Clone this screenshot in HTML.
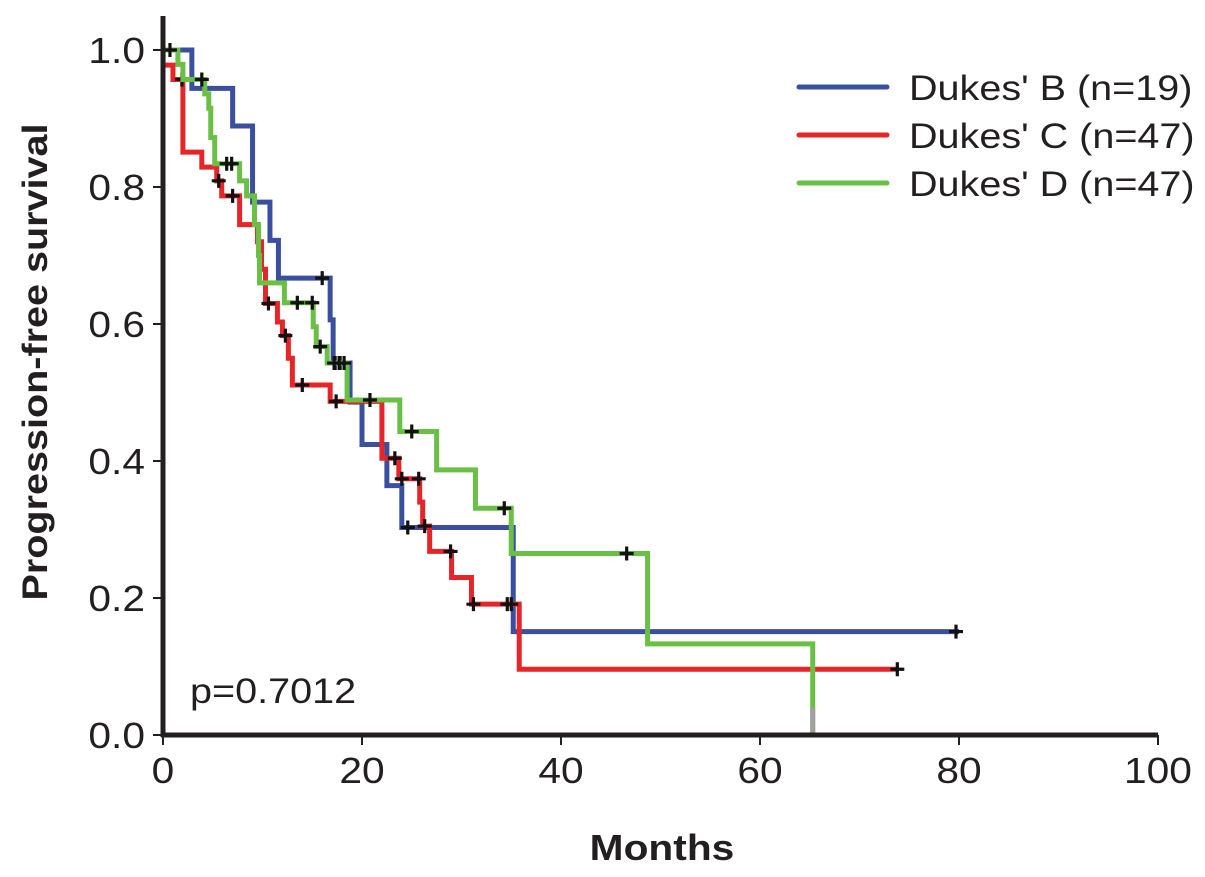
<!DOCTYPE html>
<html><head><meta charset="utf-8"><style>
body{margin:0;background:#fff;}
svg text{font-family:"Liberation Sans",Arial,sans-serif;fill:#231f20;}
</style></head><body>
<svg width="1205" height="872" viewBox="0 0 1205 872">
<g id="plot"></g>
<g id="axes"></g>
<text class="st" x="190" y="703" font-size="35">p=0.7012</text>
<text class="st" x="662" y="860" font-size="36" font-weight="bold" text-anchor="middle">Months</text>
<text class="st" transform="translate(47,362) rotate(-90)" font-size="35" font-weight="bold" text-anchor="middle">Progression-free survival</text>
<g id="legend"></g>
</svg>
<script>
const xTicks=[0,20,40,60,80,100];
const yTicks=[0,0.2,0.4,0.6,0.8,1.0];
const yTickLabels=["0.0","0.2","0.4","0.6","0.8","1.0"];
const seriesNames=["Dukes' B (n=19)","Dukes' C (n=47)","Dukes' D (n=47)"];
const colors=["#3a4fa0","#e52528","#6abf45"];
const timesB=[0,2.9,7.0,9.0,10.75,11.6,16.8,17.1,18.8,20.0,22.5,24.0,35.2];
const survB=[1,0.944,0.889,0.778,0.722,0.667,0.606,0.543,0.486,0.424,0.364,0.303,0.151];
const endB=80;
const censorB=[16.0,17.3,17.8,24.6,79.7];
const timesC=[0,0.01,1.0,2.0,3.9,5.4,5.9,7.7,9.5,9.9,10.3,11.5,12.0,12.6,13.0,16.8,22.0,23.7,25.8,26.1,26.8,29.0,31.0,35.8];
const survC=[1,0.978,0.957,0.851,0.829,0.809,0.787,0.745,0.72,0.68,0.63,0.603,0.583,0.55,0.511,0.487,0.404,0.374,0.34,0.305,0.268,0.23,0.191,0.096];
const endC=73.9;
const censorC=[1.9,5.6,7.0,10.6,12.3,14.0,17.4,23.3,24.0,25.7,26.3,28.9,31.2,34.6,35.0,73.8];
const timesD=[0,1.5,2.0,4.2,4.6,4.8,5.2,7.7,8.4,9.2,9.6,9.7,12.2,15.1,15.4,16.5,18.5,23.8,27.5,31.4,35.0,48.7,65.3];
const survD=[1,0.979,0.957,0.936,0.915,0.872,0.834,0.809,0.787,0.745,0.70,0.66,0.631,0.596,0.567,0.543,0.489,0.443,0.387,0.331,0.265,0.133,0.0];
const endD=65.3;
const censorD=[0.7,3.9,6.4,6.9,13.5,15.0,15.8,17.2,17.7,18.2,20.8,25.0,34.3,46.6];

const NS="http://www.w3.org/2000/svg";
const X0=163,X1=1158,Y0=735,Y1=50;
const xs=v=>X0+(X1-X0)*v/100;
const ys=v=>Y0-(Y0-Y1)*v;
function mk(tag,attrs,parent){const e=document.createElementNS(NS,tag);for(const k in attrs)e.setAttribute(k,attrs[k]);parent.appendChild(e);return e;}
const plot=document.getElementById('plot'),axes=document.getElementById('axes'),legend=document.getElementById('legend');

const all=[[timesB,survB,endB,censorB],[timesC,survC,endC,censorC],[timesD,survD,endD,censorD]];
const keys=['b','c','d'];
function survAt(t,s,v){let r=s[0];for(let i=0;i<t.length;i++){if(t[i]<=v)r=s[i];}return r;}
all.forEach((sr,si)=>{
  const [t,s,end,cen]=sr;
  let d="M"+xs(t[0])+","+ys(s[0]);
  for(let i=1;i<t.length;i++){d+=" H"+xs(t[i])+" V"+ys(s[i]);}
  d+=" H"+xs(end);
  const p=mk('path',{d:d,fill:'none',stroke:colors[si],'stroke-width':5,'stroke-linejoin':'miter'},plot);
  
  
  cen.forEach(c=>{
    const cx=xs(c),cy=ys(survAt(t,s,c));
    const g=mk('path',{d:`M${cx-7},${cy} H${cx+7} M${cx},${cy-7} V${cy+7}`,stroke:'#111','stroke-width':3.2,fill:'none'},plot);
    
    
  });
});
const gs=mk('line',{x1:xs(endD),x2:xs(endD),y1:ys(0.04),y2:ys(0),stroke:'#a0a0a0','stroke-width':5},plot);



const ya=mk('line',{x1:X0,x2:X0,y1:16,y2:Y0+2,stroke:'#231f20','stroke-width':5},axes);

const xa=mk('line',{x1:X0-2,x2:X1,y1:Y0,y2:Y0,stroke:'#231f20','stroke-width':5},axes);

yTicks.forEach((v,i)=>{
  const tk=mk('line',{x1:X0-10,x2:X0,y1:ys(v),y2:ys(v),stroke:'#231f20','stroke-width':2},axes);
  
  const tx=mk('text',{x:145,y:ys(v)+13,'font-size':36,'text-anchor':'end','class':'st'},axes);
  tx.textContent=yTickLabels[i];
  
});
xTicks.forEach(v=>{
  const tk=mk('line',{x1:xs(v),x2:xs(v),y1:Y0,y2:Y0+10,stroke:'#231f20','stroke-width':2},axes);
  
  const tx=mk('text',{x:xs(v),y:Y0+48,'font-size':36,'text-anchor':'middle','class':'st'},axes);
  tx.textContent=String(v);
  
});
seriesNames.forEach((n,i)=>{
  const y=87+i*48;
  const l=mk('line',{x1:799,x2:887,y1:y,y2:y,stroke:colors[i],'stroke-width':5,'stroke-linecap':'round'},legend);
  
  const t=mk('text',{x:909,y:y+13,'font-size':35,'class':'st'},legend);
  t.textContent=n;
  
});
// horizontal stretch to match reference glyph widths
document.querySelectorAll('text.st').forEach(t=>{
  const w=t.getComputedTextLength();
  t.setAttribute('textLength',(w*1.13).toFixed(1));
  t.setAttribute('lengthAdjust','spacingAndGlyphs');
});
</script>
</body></html>
